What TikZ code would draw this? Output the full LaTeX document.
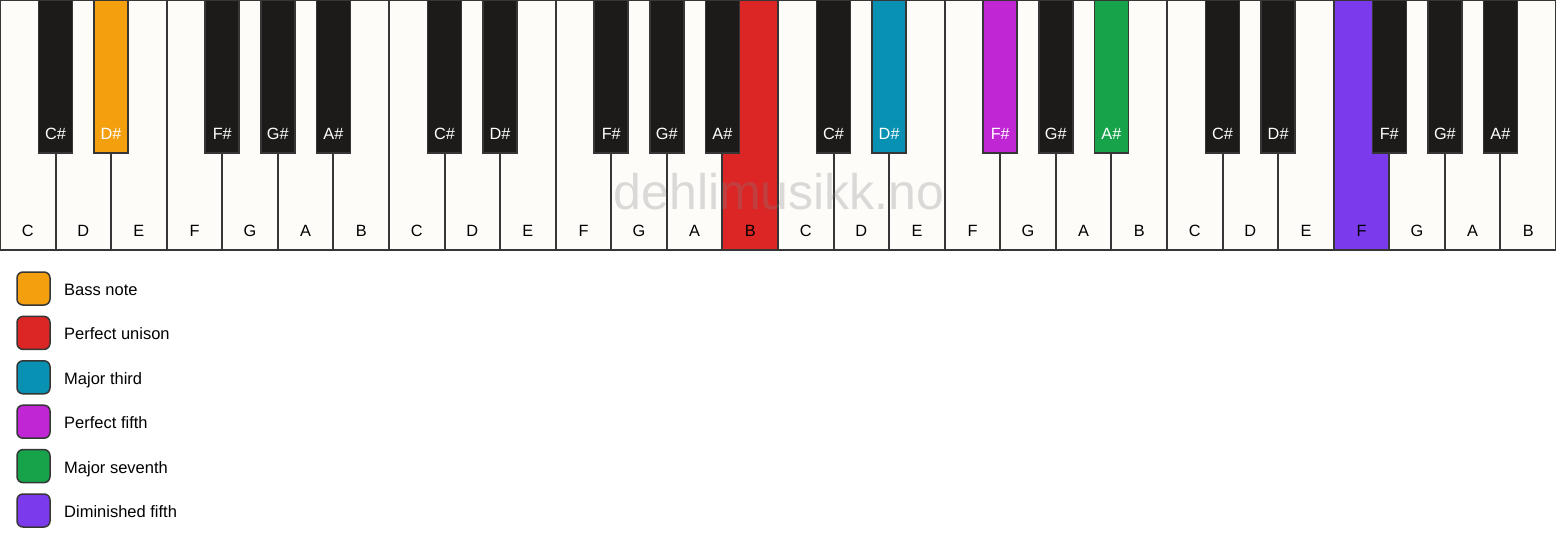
\documentclass[tikz,border=0pt]{standalone}
\usepackage{fontspec}
\setmainfont{Liberation Sans}
\usetikzlibrary{calc}

\definecolor{keywhite}{HTML}{FDFCF9}
\definecolor{keyblack}{HTML}{1C1B1A}
\definecolor{keyline}{HTML}{363636}
\definecolor{bassnote}{HTML}{F39F0E}
\definecolor{unison}{HTML}{DC2626}
\definecolor{majthird}{HTML}{0891B2}
\definecolor{perffifth}{HTML}{C026D3}
\definecolor{majseventh}{HTML}{16A34A}
\definecolor{dimfifth}{HTML}{7C3AED}

\begin{document}
\begin{tikzpicture} [x=1pt, y=-1pt,
  whitekey/.style={draw=keyline, line width=1.9pt, fill=keywhite},
  blackkey/.style={draw=keyline, line width=1.6pt},
  keylabel/.style={font=\fontsize{16.3}{19}\selectfont, inner sep=0pt, anchor=base},
  legendbox/.style={draw=keyline, line width=1.5pt, rounded corners=6pt},
  legendtext/.style={font=\fontsize{16.5}{19}\selectfont, inner sep=0pt, anchor=base west}]
\useasboundingbox (0,0) rectangle (1556,550);
\pgfmathsetmacro{\kw}{1556/28}

% white keys
\foreach \o in {0,...,3}
\foreach \k in {0,...,6}
\draw[whitekey] ({(7*\o+\k)*\kw},0) rectangle ++(\kw,250);

\draw[whitekey, fill=unison] ({13*\kw},0) rectangle ++(\kw,250);
\draw[whitekey, fill=dimfifth] ({24*\kw},0) rectangle ++(\kw,250);

\foreach \o in {0,...,3}
\foreach \n [count=\k from 0] in {C,D,E,F,G,A,B}
\node[keylabel] (w\o\n) at ({(7*\o+\k+0.5)*\kw},236) {\n};

% watermark
\node[anchor=base, inner sep=0pt, text=gray, opacity=0.28, font=\fontsize{50}{60}\selectfont] (mark) at (779,209) {dehlimusikk.no};

% black keys
\foreach \b/\n/\c in {1/C/keyblack, 2/D/bassnote, 4/F/keyblack, 5/G/keyblack, 6/A/keyblack,
  8/C/keyblack, 9/D/keyblack, 11/F/keyblack, 12/G/keyblack, 13/A/keyblack,
  15/C/keyblack, 16/D/majthird, 18/F/perffifth, 19/G/keyblack, 20/A/majseventh,
  22/C/keyblack, 23/D/keyblack, 25/F/keyblack, 26/G/keyblack, 27/A/keyblack}
{
\draw[blackkey, fill=\c] ({\b*\kw-17},0) rectangle ++(34,153);
\node[keylabel, text=white] (b\b) at ({\b*\kw},139) {\n\#};
}

% legend
\foreach \c/\t [count=\k from 0] in {bassnote/Bass note, unison/Perfect unison, majthird/Major third,
  perffifth/Perfect fifth, majseventh/Major seventh, dimfifth/Diminished fifth}
{
\draw[legendbox, fill=\c] (17,{272+44.4*\k}) rectangle ++(33,33);
\node[legendtext] (leg\k) at (64,{295.5+44.4*\k}) {\t};
}

\end{tikzpicture}
\end{document}
